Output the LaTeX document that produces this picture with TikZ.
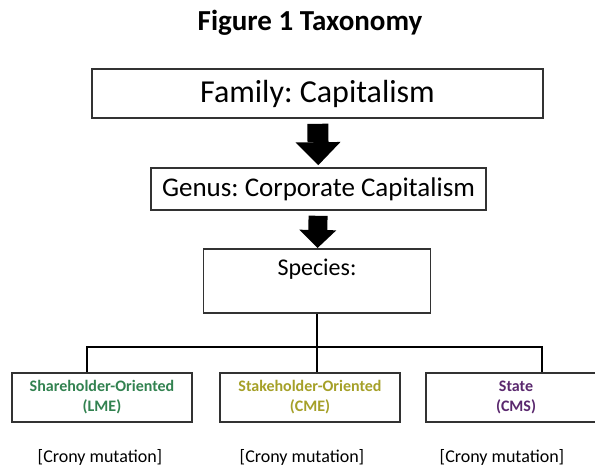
\documentclass[tikz,border=0pt]{standalone}
\usepackage{fontspec}
\setmainfont{Carlito}
\usetikzlibrary{arrows.meta}
\frenchspacing

\definecolor{shareholdergreen}{RGB}{50,130,80}
\definecolor{stakeholderolive}{RGB}{165,160,40}
\definecolor{statepurple}{RGB}{90,40,110}
\definecolor{boxgray}{RGB}{50,50,50}

\begin{document}
\begin{tikzpicture}[x=1pt, y=-1pt,
  rank/.style={draw=boxgray, line width=1.6pt, inner sep=0pt, align=center},
  kind/.style={rank, minimum width=180pt, minimum height=49pt, font=\fontsize{16}{20}\selectfont\bfseries},
  mutation/.style={font=\fontsize{18}{22}\selectfont},
  bigarrow/.style={line width=21pt, -{Triangle[width=45pt, length=23pt, line width=0pt]}},
  smallarrow/.style={line width=19pt, -{Triangle[width=37pt, length=18pt, line width=0pt]}},
  tree/.style={line width=1.6pt}]

  \useasboundingbox (0,0) rectangle (595,468);
  \clip (0,0) rectangle (595,468);

  \node[anchor=base, font=\fontsize{29}{34}\selectfont\bfseries] (title) at (310,31) {Figure 1 Taxonomy};

  \node[rank, minimum width=451pt, minimum height=49pt, font=\fontsize{32}{38}\selectfont] (family) at (317.5,93.5) {Family: Capitalism};
  \node[rank, minimum width=335pt, minimum height=42pt, font=\fontsize{27}{32}\selectfont] (genus) at (318.5,189) {Genus: Corporate Capitalism};
  \node[rank, anchor=north, minimum width=227pt, inner ysep=8pt, text height=19pt, text depth=29pt, font=\fontsize{24}{29}\selectfont] (species) at (317,248) {Species:};

  \node[kind, text=shareholdergreen] (lme) at (102,397.5) {Shareholder-Oriented\\(LME)};
  \node[kind, text=stakeholderolive] (cme) at (310,397.5) {Stakeholder-Oriented\\(CME)};
  \node[kind, text=statepurple] (cms) at (516,397.5) {State\\(CMS)};

  \node[mutation] (lmemutation) at (100,457) {[Crony mutation]};
  \node[mutation] (cmemutation) at (302,457) {[Crony mutation]};
  \node[mutation] (cmsmutation) at (502,457) {[Crony mutation]};

  \draw[bigarrow, shorten <=5pt, shorten >=2pt] (family) -- (genus);
  \draw[smallarrow, shorten <=5pt] (genus) -- (species);

  \coordinate (lmedrop) at ([xshift=-15pt]lme.north);
  \coordinate (cmsdrop) at ([xshift=26pt]cms.north);
  \path (species.south |- cme.north) ++(0,-25) coordinate (junction);

  \draw[tree] (species.south) -- (species.south |- cme.north);
  \draw[tree] (lmedrop) |- (junction) -| (cmsdrop);

\end{tikzpicture}
\end{document}
